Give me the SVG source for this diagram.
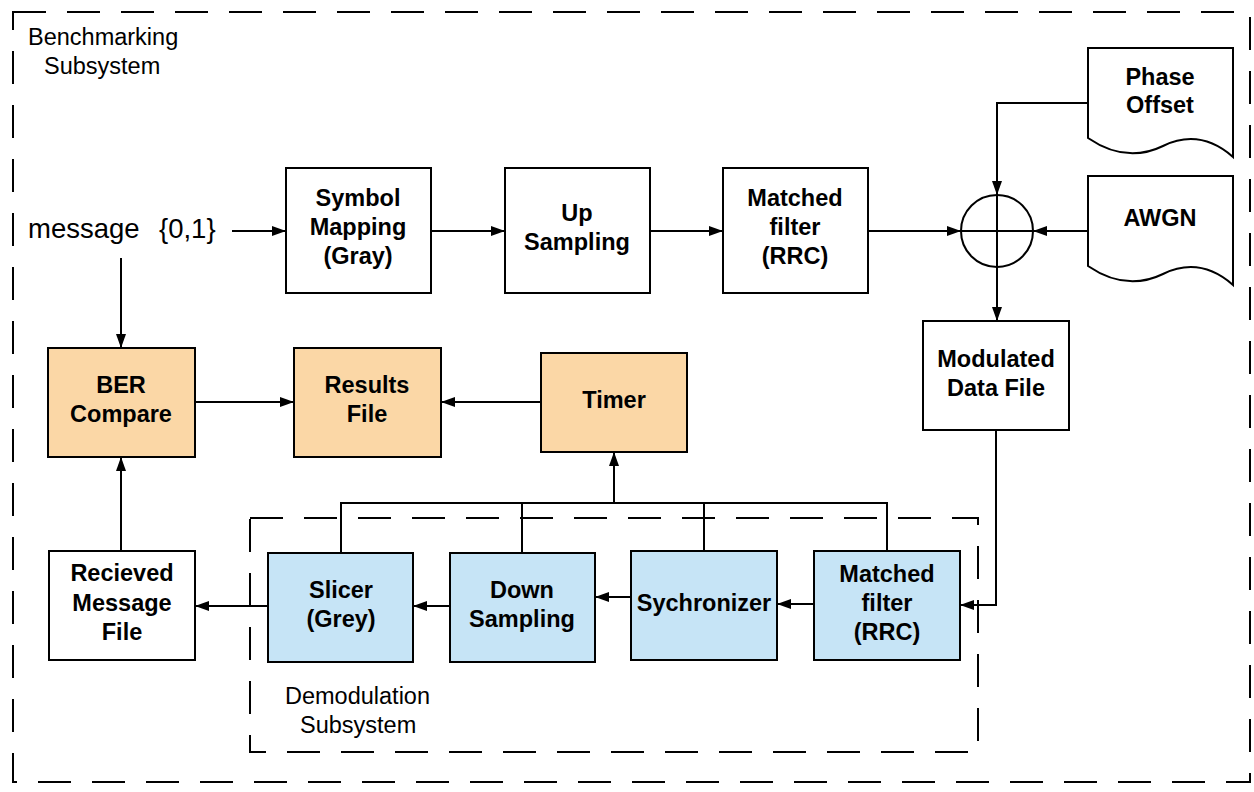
<svg xmlns="http://www.w3.org/2000/svg" width="1254" height="792" viewBox="0 0 1254 792">
  <defs>
    <marker id="arrow" viewBox="0 0 14 10" refX="14" refY="5" markerWidth="14" markerHeight="10" markerUnits="userSpaceOnUse" orient="auto">
      <path d="M0,0 L14,5 L0,10 Z" fill="#000"/>
    </marker>
    <style>
      .box { stroke: #000; stroke-width: 2; }
      .plain { fill: #fff; }
      .orange { fill: #FBD7A6; }
      .blue { fill: #C6E4F6; }
      .frame { fill: none; stroke: #000; stroke-width: 2; stroke-dasharray: 33 21; }
      .lbl { font-family: "Liberation Sans", Arial, sans-serif; font-weight: bold; font-size: 23.5px; text-anchor: middle; fill: #000; }
      .note { font-family: "Liberation Sans", Arial, sans-serif; font-size: 23.5px; fill: #000; }
      .wire { fill: none; stroke: #000; stroke-width: 2; }
      .arr { marker-end: url(#arrow); }
    </style>
  </defs>
  <rect width="1254" height="792" fill="#fff"/>

  <!-- outer benchmarking frame -->
  <g id="benchmarking-subsystem">
    <rect class="frame" x="13" y="12" width="1237" height="770"/>
    <text class="note" x="28" y="45">Benchmarking</text>
    <text class="note" x="44" y="74">Subsystem</text>
  </g>

  <!-- demodulation frame -->
  <g id="demodulation-subsystem">
    <rect class="frame" x="250" y="518" width="728" height="234"/>
    <text class="note" x="285" y="704">Demodulation</text>
    <text class="note" x="300" y="733">Subsystem</text>
  </g>

  <g id="message" font-family="Liberation Sans, Arial, sans-serif" font-size="27.5">
    <text x="28" y="238">message</text>
    <text x="159" y="238">{0,1}</text>
  </g>

  <g id="symbol-mapping">
    <rect class="box plain" x="286" y="168" width="145" height="125"/>
    <text class="lbl" x="358" y="206">Symbol</text>
    <text class="lbl" x="358" y="235">Mapping</text>
    <text class="lbl" x="358" y="264">(Gray)</text>
  </g>

  <g id="up-sampling">
    <rect class="box plain" x="505" y="168" width="145" height="125"/>
    <text class="lbl" x="577" y="221">Up</text>
    <text class="lbl" x="577" y="250">Sampling</text>
  </g>

  <g id="matched-filter-tx">
    <rect class="box plain" x="723" y="168" width="145" height="125"/>
    <text class="lbl" x="795" y="206">Matched</text>
    <text class="lbl" x="795" y="235">filter</text>
    <text class="lbl" x="795" y="264">(RRC)</text>
  </g>

  <g id="sum">
    <circle class="box plain" cx="997" cy="231" r="36"/>
    <line class="wire" x1="961" y1="231" x2="1033" y2="231"/>
    <line class="wire" x1="997" y1="195" x2="997" y2="267"/>
  </g>

  <g id="phase-offset">
    <path class="box plain" d="M1088,48 H1233 V157 Q1200,128 1163,146 T1088,138 Z"/>
    <text class="lbl" x="1160" y="85">Phase</text>
    <text class="lbl" x="1160" y="113">Offset</text>
  </g>

  <g id="awgn">
    <path class="box plain" d="M1088,176 H1233 V285 Q1200,256 1163,274 T1088,266 Z"/>
    <text class="lbl" x="1160" y="226">AWGN</text>
  </g>

  <g id="modulated-data-file">
    <rect class="box plain" x="923" y="321" width="146" height="109"/>
    <text class="lbl" x="996" y="367">Modulated</text>
    <text class="lbl" x="996" y="396">Data File</text>
  </g>

  <g id="ber-compare">
    <rect class="box orange" x="48" y="348" width="147" height="109"/>
    <text class="lbl" x="121" y="393">BER</text>
    <text class="lbl" x="121" y="422">Compare</text>
  </g>

  <g id="results-file">
    <rect class="box orange" x="294" y="348" width="147" height="109"/>
    <text class="lbl" x="367" y="393">Results</text>
    <text class="lbl" x="367" y="422">File</text>
  </g>

  <g id="timer">
    <rect class="box orange" x="541" y="353" width="146" height="99"/>
    <text class="lbl" x="614" y="408">Timer</text>
  </g>

  <g id="received-message-file">
    <rect class="box plain" x="49" y="551" width="146" height="109"/>
    <text class="lbl" x="122" y="581">Recieved</text>
    <text class="lbl" x="122" y="611">Message</text>
    <text class="lbl" x="122" y="640">File</text>
  </g>

  <g id="slicer">
    <rect class="box blue" x="268" y="553" width="145" height="109"/>
    <text class="lbl" x="341" y="598">Slicer</text>
    <text class="lbl" x="341" y="627">(Grey)</text>
  </g>

  <g id="down-sampling">
    <rect class="box blue" x="450" y="553" width="145" height="109"/>
    <text class="lbl" x="522" y="598">Down</text>
    <text class="lbl" x="522" y="627">Sampling</text>
  </g>

  <g id="synchronizer">
    <rect class="box blue" x="631" y="551" width="146" height="109"/>
    <text class="lbl" x="704" y="611">Sychronizer</text>
  </g>

  <g id="matched-filter-rx">
    <rect class="box blue" x="814" y="551" width="146" height="109"/>
    <text class="lbl" x="887" y="582">Matched</text>
    <text class="lbl" x="887" y="611">filter</text>
    <text class="lbl" x="887" y="640">(RRC)</text>
  </g>

  <g id="connectors">
    <!-- transmit chain -->
    <line class="wire arr" x1="232" y1="231" x2="286" y2="231"/>
    <line class="wire arr" x1="431" y1="231" x2="505" y2="231"/>
    <line class="wire arr" x1="650" y1="231" x2="723" y2="231"/>
    <line class="wire arr" x1="868" y1="231" x2="961" y2="231"/>
    <line class="wire arr" x1="1088" y1="231" x2="1033" y2="231"/>
    <polyline class="wire arr" points="1088,103 997,103 997,195"/>
    <line class="wire arr" x1="997" y1="267" x2="997" y2="321"/>
    <!-- receive chain -->
    <polyline class="wire arr" points="996,430 996,605 960,605"/>
    <line class="wire arr" x1="814" y1="604" x2="777" y2="604"/>
    <line class="wire arr" x1="631" y1="597" x2="595" y2="597"/>
    <line class="wire arr" x1="450" y1="606" x2="413" y2="606"/>
    <line class="wire arr" x1="268" y1="606" x2="195" y2="606"/>
    <!-- benchmarking -->
    <line class="wire arr" x1="121" y1="258" x2="121" y2="348"/>
    <line class="wire arr" x1="121" y1="551" x2="121" y2="457"/>
    <line class="wire arr" x1="195" y1="402" x2="294" y2="402"/>
    <line class="wire arr" x1="541" y1="402" x2="441" y2="402"/>
    <!-- timing taps -->
    <polyline class="wire" points="341,553 341,503 887,503 887,551"/>
    <line class="wire" x1="522" y1="503" x2="522" y2="553"/>
    <line class="wire" x1="704" y1="503" x2="704" y2="551"/>
    <line class="wire arr" x1="614" y1="503" x2="614" y2="452"/>
  </g>
</svg>
